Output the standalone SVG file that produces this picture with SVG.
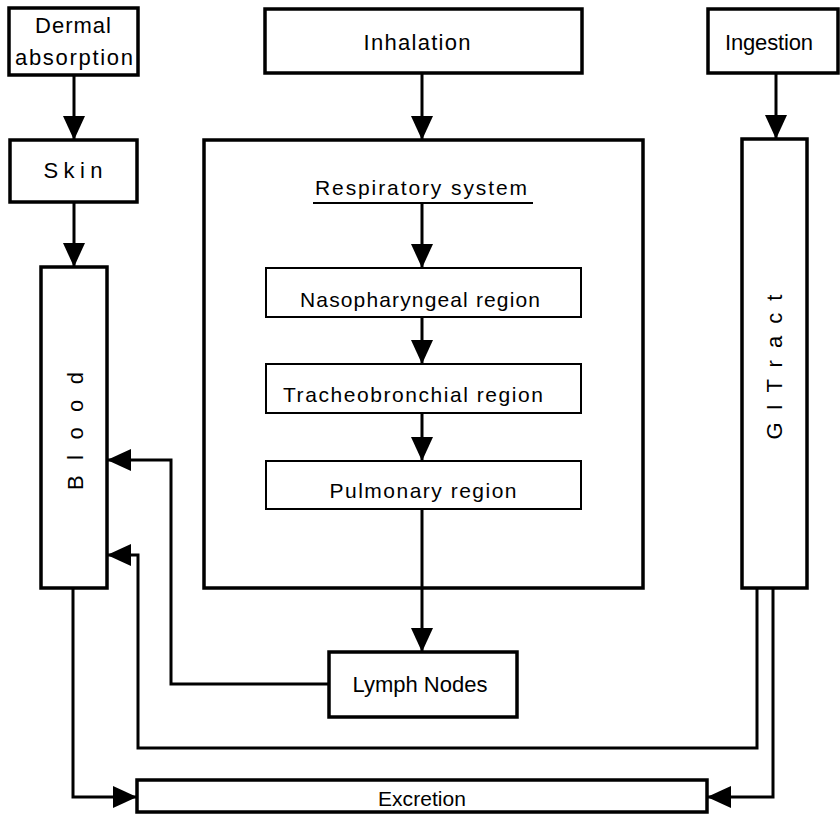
<svg xmlns="http://www.w3.org/2000/svg" width="840" height="815" viewBox="0 0 840 815">
<style>
  .box { fill: #fff; stroke: #000; stroke-width: 3.5; }
  .rbox { fill: #fff; stroke: #000; stroke-width: 2; }
  .t { font-family: "Liberation Sans", Arial, sans-serif; font-size: 22px; fill: #000; text-anchor: middle; }
  .s { font-size: 21px; }
  .c { fill: none; stroke: #000; stroke-width: 3; }
</style>
<defs>
  <marker id="ah" markerUnits="userSpaceOnUse" markerWidth="24" markerHeight="22" viewBox="0 0 24 22" refX="24" refY="11" orient="auto">
    <path d="M0,0 L24,11 L0,22 z" fill="#000"/>
  </marker>
</defs>
<rect width="840" height="815" fill="#fff"/>

<g id="dermal">
  <rect class="box" x="9" y="8" width="129" height="67"/>
  <text class="t" x="73" y="33" textLength="76" lengthAdjust="spacing">Dermal</text>
  <text class="t" x="74" y="65" textLength="118" lengthAdjust="spacing">absorption</text>
</g>
<g id="inhalation">
  <rect class="box" x="265" y="9" width="317" height="64"/>
  <text class="t" x="417" y="50" textLength="107" lengthAdjust="spacing">Inhalation</text>
</g>
<g id="ingestion">
  <rect class="box" x="708" y="9" width="130" height="64"/>
  <text class="t" x="769" y="50" textLength="88" lengthAdjust="spacing">Ingestion</text>
</g>
<g id="skin">
  <rect class="box" x="10" y="140" width="127" height="62"/>
  <text class="t" x="73" y="178" textLength="59" lengthAdjust="spacing">Skin</text>
</g>
<g id="blood">
  <rect class="box" x="41" y="267" width="66" height="321"/>
  <text class="t" transform="translate(83,431) rotate(-90)" x="0" y="0" textLength="118" lengthAdjust="spacing">B l o o d</text>
</g>
<g id="respiratory">
  <rect class="box" x="204" y="140" width="439" height="448"/>
  <text class="t s" x="421" y="195" textLength="212" lengthAdjust="spacing">Respiratory  system</text>
  <line x1="313" y1="203" x2="533" y2="203" stroke="#000" stroke-width="2"/>
</g>
<g id="nasopharyngeal">
  <rect class="rbox" x="266" y="268" width="315" height="49"/>
  <text class="t s" x="420" y="307" textLength="240" lengthAdjust="spacing">Nasopharyngeal  region</text>
</g>
<g id="tracheobronchial">
  <rect class="rbox" x="266" y="364" width="315" height="49"/>
  <text class="t s" x="413" y="402" textLength="260" lengthAdjust="spacing">Tracheobronchial  region</text>
</g>
<g id="pulmonary">
  <rect class="rbox" x="266" y="461" width="315" height="48"/>
  <text class="t s" x="423" y="498" textLength="187" lengthAdjust="spacing">Pulmonary  region</text>
</g>
<g id="gitract">
  <rect class="box" x="742" y="139" width="65" height="449"/>
  <text class="t" transform="translate(782,367) rotate(-90)" x="0" y="0" textLength="145" lengthAdjust="spacing">G I  T r a c t</text>
</g>
<g id="lymph">
  <rect class="box" x="329" y="652" width="188" height="65"/>
  <text class="t" x="420" y="692" textLength="135" lengthAdjust="spacing">Lymph Nodes</text>
</g>
<g id="excretion">
  <rect class="box" x="137" y="780" width="570" height="32"/>
  <text class="t s" x="422" y="806" textLength="88" lengthAdjust="spacing">Excretion</text>
</g>

<g id="connectors">
  <line class="c" x1="74" y1="75" x2="74" y2="140" marker-end="url(#ah)"/>
  <line class="c" x1="74" y1="202" x2="74" y2="267" marker-end="url(#ah)"/>
  <line class="c" x1="422" y1="73" x2="422" y2="140" marker-end="url(#ah)"/>
  <line class="c" x1="422" y1="203" x2="422" y2="268" marker-end="url(#ah)"/>
  <line class="c" x1="422" y1="317" x2="422" y2="364" marker-end="url(#ah)"/>
  <line class="c" x1="422" y1="413" x2="422" y2="461" marker-end="url(#ah)"/>
  <line class="c" x1="422" y1="509" x2="422" y2="652" marker-end="url(#ah)"/>
  <line class="c" x1="776" y1="73" x2="776" y2="139" marker-end="url(#ah)"/>
  <polyline class="c" points="329,684 171,684 171,460 107,460" marker-end="url(#ah)"/>
  <polyline class="c" points="757,588 757,748 138,748 138,555 107,555" marker-end="url(#ah)"/>
  <polyline class="c" points="73,588 73,797 137,797" marker-end="url(#ah)"/>
  <polyline class="c" points="773,588 773,797 707,797" marker-end="url(#ah)"/>
</g>
</svg>
